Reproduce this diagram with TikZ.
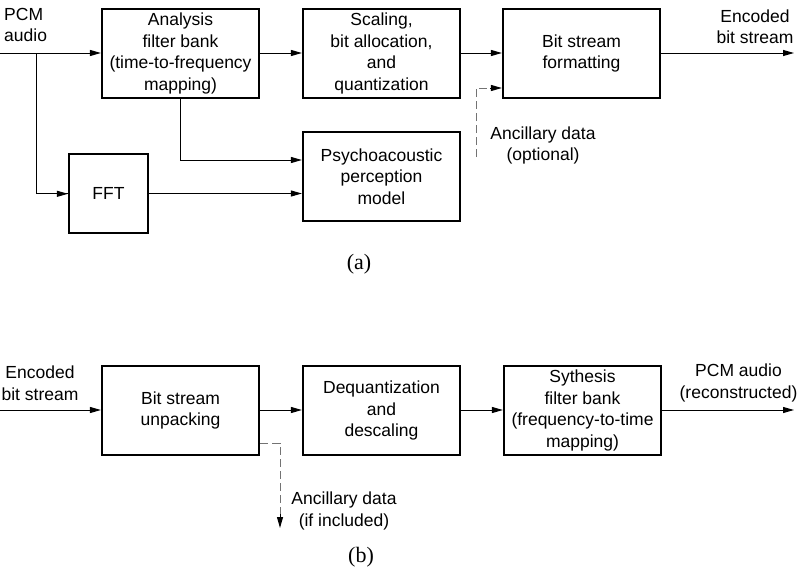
\documentclass[tikz,border=0pt]{standalone}
\usepackage{fontspec}
\setmainfont{Liberation Sans}
\newfontfamily\capfont{Liberation Serif}
\usetikzlibrary{arrows.meta}
\tikzset{
  blk/.style={draw, line width=2.2pt, minimum width=157pt, minimum height=89pt, inner sep=0pt, align=center, font=\fontsize{17.5}{21.5}\selectfont},
  lbl/.style={inner sep=0pt, align=center, font=\fontsize{17.5}{21.5}\selectfont},
  figcap/.style={inner sep=0pt, font=\capfont\fontsize{22}{24}\selectfont},
  arr/.style={line width=1pt, -{Triangle[length=11pt,width=6pt]}},
  ln/.style={line width=1pt},
  dsh/.style={line width=1pt, draw=black!55, dash pattern=on 8pt off 4pt}
}
\begin{document}
\begin{tikzpicture}[x=1pt,y=-1pt]
\useasboundingbox (0,0) rectangle (798,570);
% ---- (a) encoder ----
\node[blk] (ana) at (180.5,53.5) {Analysis\\filter bank\\(time-to-frequency\\mapping)};
\node[blk] (scl) at (381.5,53.5) {Scaling,\\bit allocation,\\and\\quantization};
\node[blk] (fmt) at (581.5,53.5) {Bit stream\\formatting};
\node[blk, minimum width=79pt, minimum height=79pt] (fft) at (108.5,193.5) {FFT};
\node[blk] (psy) at (381.5,176.5) {Psychoacoustic\\perception\\model};

\node[lbl, anchor=west, align=left] (pcm) at (4,25) {PCM\\audio};
\node[lbl] (enc) at (755,26.5) {Encoded\\bit stream};
\node[lbl] (anca) at (543,145.5) {Ancillary data\\(optional)};
\node[figcap] (capa) at (359,264) {(a)};

\coordinate (in1) at (0,53);
\coordinate (br) at (36,53);
\coordinate (out1) at (794,53);
\coordinate (anc1) at (476,157);

\draw[arr] (in1) -- (ana.west |- in1);
\draw[ln] (br) |- (fft.west);
\draw[arr] ([yshift=-0.3pt]fft.west -| br) -- ([yshift=-0.3pt]fft.west);
\draw[arr] (ana.east |- in1) -- (scl.west |- in1);
\draw[arr] (scl.east |- in1) -- (fmt.west |- in1);
\draw[arr] (fmt.east |- in1) -- (out1);
\draw[arr] (ana.south) |- ([yshift=16.5pt]psy.west);
\draw[arr] (fft.east) -- (fft.east -| psy.west);
\draw[dsh] (anc1) |- ([yshift=-34.5pt,xshift=-12pt]fmt.west);
\draw[arr, draw=black] ([yshift=-34.5pt,xshift=-12pt]fmt.west) -- ([yshift=-34.5pt]fmt.west);

% ---- (b) decoder ----
\node[blk] (unp) at (180.5,410.5) {Bit stream\\unpacking};
\node[blk] (deq) at (381.5,410.5) {Dequantization\\and\\descaling};
\node[blk] (syn) at (582.5,410.5) {Sythesis\\filter bank\\(frequency-to-time\\mapping)};

\node[lbl] (encb) at (40,383) {Encoded\\bit stream};
\node[lbl] (pcmb) at (738.5,383) {PCM audio\\(reconstructed)};
\node[lbl] (ancb) at (344,511) {Ancillary data\\(if included)};
\node[figcap] (capb) at (361,557) {(b)};

\coordinate (in2) at (0,410);
\coordinate (out2) at (794,410);
\coordinate (anc2) at (280,528);

\draw[arr] (in2) -- (unp.west |- in2);
\draw[arr] (unp.east |- in2) -- (deq.west |- in2);
\draw[arr] (deq.east |- in2) -- (syn.west |- in2);
\draw[arr] (syn.east |- in2) -- (out2);
\draw[dsh] ([yshift=-32.5pt]unp.east) -| ([yshift=14pt]anc2);
\draw[arr] ([yshift=14pt]anc2) -- (anc2);
\end{tikzpicture}
\end{document}
